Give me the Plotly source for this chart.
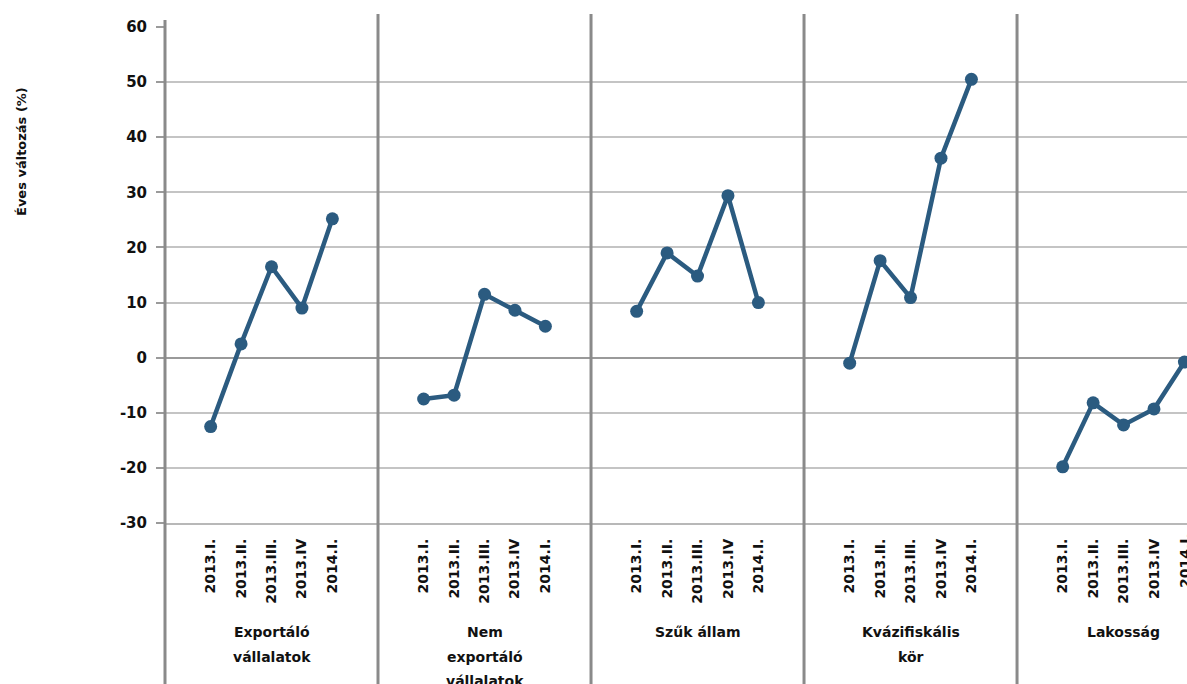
import plotly.graph_objects as go

quarters = ["2013.I.", "2013.II.", "2013.III.", "2013.IV", "2014.I."]
groups = [
    ["Exportáló", "vállalatok"],
    ["Nem", "exportáló", "vállalatok"],
    ["Szűk állam"],
    ["Kvázifiskális", "kör"],
    ["Lakosság"],
]
exportalo = [-12.5, 2.5, 16.5, 9.0, 25.2]
nem_exportalo = [-7.5, -6.8, 11.5, 8.6, 5.7]
szuk_allam = [8.4, 19.0, 14.8, 29.4, 10.0]
kvazifiskalis = [-1.0, 17.6, 10.9, 36.2, 50.5]
lakossag = [-19.8, -8.2, -12.2, -9.3, -0.8]
series = [exportalo, nem_exportalo, szuk_allam, kvazifiskalis, lakossag]
y_ticks = [-30, -20, -10, 0, 10, 20, 30, 40, 50, 60]
y_ticktext = ["-30", "-20", "-10", "0", "10", "20", "30", "40", "50", "60"]

SLOTS = 7  # one empty slot before and after each group's five quarters
LINE = "#2B5B80"
FONT = "DejaVu Sans"

W, H = 1187, 684
L, T, B = 165, 27, 161
plot_h = H - T - B
plot_w = W - L
unit_px = 30.43
x_max = plot_w / unit_px

fig = go.Figure()
tickvals, ticktext = [], []
last_tick = None
for g, vals in enumerate(series):
    xs = [g * SLOTS + q + 1.5 for q in range(len(quarters))]
    tickvals += xs
    ticktext += quarters
    last_tick = xs[-1]
    fig.add_trace(go.Scatter(
        x=xs, y=vals, mode="lines+markers",
        line=dict(color=LINE, width=4.5),
        marker=dict(color=LINE, size=13),
        showlegend=False, hoverinfo="skip",
    ))

def py(pix):
    return 1 - (pix - T) / plot_h

shapes = []
# left axis and group separators extending into the label area
for g in range(len(groups)):
    xv = g * SLOTS
    shapes.append(dict(type="line", xref="paper", yref="paper",
                       x0=xv / x_max, x1=xv / x_max,
                       y0=py(H + 2), y1=py(14 if g else 20),
                       line=dict(color="#8a8a8a", width=3), layer="above"))

annotations = []
for g, lines in enumerate(groups):
    cx = g * SLOTS + SLOTS / 2
    for i, txt in enumerate(lines):
        annotations.append(dict(
            x=cx, xref="x", y=py(632 + 24.5 * i), yref="paper",
            text=txt, showarrow=False, xanchor="center", yanchor="middle",
            font=dict(family=FONT, size=14, color="#111111", weight="bold"),
        ))
# the last quarter label sits on the cut-off right edge of the chart
annotations.append(dict(
    x=last_tick, xref="x", y=py(531), yref="paper", text=quarters[-1],
    showarrow=False, textangle=-90, xanchor="center", yanchor="top",
    font=dict(family=FONT, size=14, color="#111111", weight="bold"),
))
annotations.append(dict(
    x=(22 - L) / plot_w, xref="paper", y=py(152), yref="paper",
    text="Éves változás (%)",
    showarrow=False, textangle=-90, xanchor="center", yanchor="middle",
    font=dict(family=FONT, size=13, color="#111111", weight="bold"),
))

fig.update_layout(
    width=W, height=H,
    margin=dict(l=L, r=0, t=T, b=B, pad=0),
    paper_bgcolor="white", plot_bgcolor="white",
    shapes=shapes, annotations=annotations,
    xaxis=dict(
        range=[0, x_max], tickmode="array", tickvals=tickvals[:-1], ticktext=ticktext[:-1],
        tickangle=-90, ticks="", showgrid=False, zeroline=False,
        showline=True, linecolor="#b8b8b8", linewidth=2,
        tickfont=dict(family=FONT, size=14, color="#111111", weight="bold"),
        ticklabelstandoff=8,
    ),
    yaxis=dict(
        range=[-30, 60], tickmode="array", tickvals=y_ticks, ticktext=y_ticktext,
        showgrid=True, gridcolor="#c4c4c4", gridwidth=2,
        zeroline=True, zerolinecolor="#9a9a9a", zerolinewidth=2,
        showline=False, ticks="outside", ticklen=8, tickwidth=2, tickcolor="#9a9a9a",
        tickfont=dict(family=FONT, size=15, color="#111111", weight="bold"),
        ticklabelstandoff=6,
    ),
)

fig.write_html("out.html")
